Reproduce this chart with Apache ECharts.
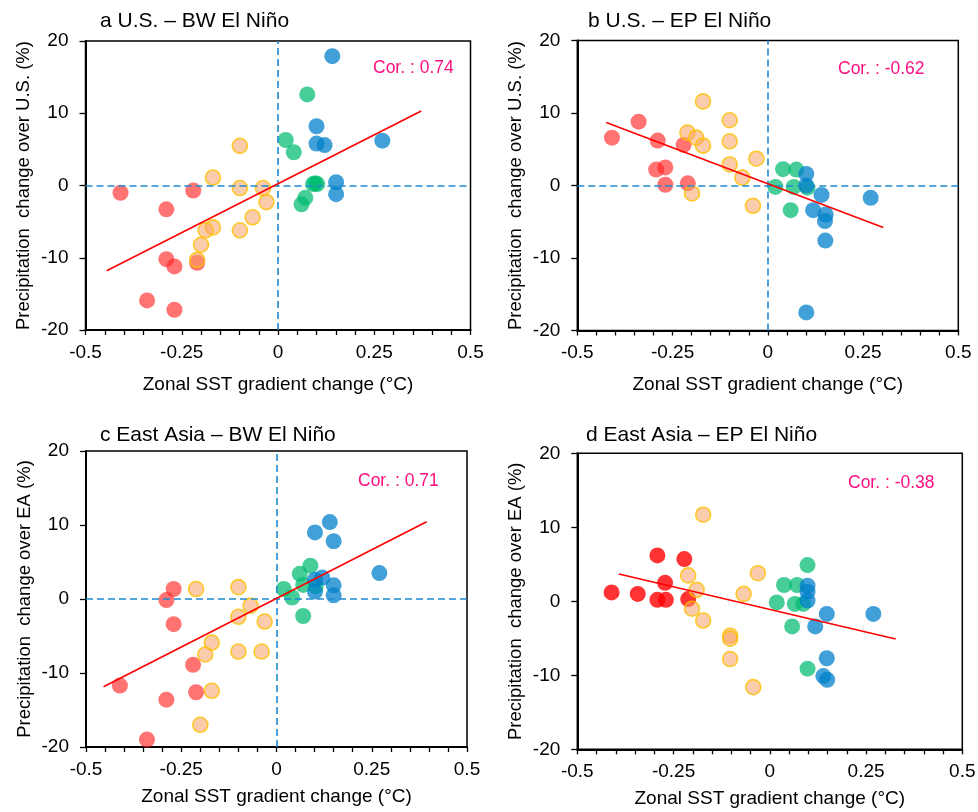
<!DOCTYPE html>
<html><head><meta charset="utf-8">
<script src="https://cdn.jsdelivr.net/npm/echarts/dist/echarts.min.js"></script>
<style>html,body{margin:0;padding:0;background:#fff}#c{width:978px;height:812px}</style>
</head><body><div id="c"></div>
<script>
// ---------- data ----------
const xTickValues = [-0.5, -0.25, 0, 0.25, 0.5];
const yTickValues = [-20, -10, 0, 10, 20];
const panelTitles = ['a U.S. – BW El Niño', 'b U.S. – EP El Niño', 'c East Asia – BW El Niño', 'd East Asia – EP El Niño'];
const yNames = ['Precipitation  change over U.S. (%)', 'Precipitation  change over U.S. (%)', 'Precipitation  change over EA (%)', 'Precipitation  change over EA (%)'];
const xName = 'Zonal SST gradient change (°C)';
const corLabels = ['Cor. : 0.74', 'Cor. : -0.62', 'Cor. : 0.71', 'Cor. : -0.38'];

const aRed = [[-0.409,-1.0],[-0.220,-0.7],[-0.290,-3.3],[-0.290,-10.2],[-0.269,-11.2],[-0.210,-10.7],[-0.340,-15.9],[-0.269,-17.2]];
const aOrange = [[-0.099,5.5],[-0.169,1.1],[-0.099,-0.35],[-0.039,-0.35],[-0.030,-2.3],[-0.066,-4.4],[-0.169,-5.8],[-0.188,-6.2],[-0.099,-6.2],[-0.200,-8.2],[-0.210,-10.3]];
const aGreen = [[0.076,12.6],[0.020,6.3],[0.041,4.6],[0.091,0.2],[0.102,0.2],[0.097,0.3],[0.071,-1.7],[0.061,-2.6]];
const aBlue = [[0.141,17.9],[0.100,8.2],[0.100,5.8],[0.121,5.6],[0.271,6.2],[0.151,0.45],[0.151,-1.2]];
const aFitX = [-0.445, 0.372], aFitY = [-11.8, 10.3];

const bRed = [[-0.409,6.6],[-0.339,8.8],[-0.289,6.2],[-0.221,5.6],[-0.293,2.2],[-0.269,2.5],[-0.269,0.1],[-0.210,0.3]];
const bOrange = [[-0.170,11.6],[-0.100,9.0],[-0.211,7.3],[-0.188,6.6],[-0.170,5.5],[-0.100,6.1],[-0.030,3.7],[-0.100,2.9],[-0.067,1.1],[-0.199,-1.1],[-0.039,-2.8]];
const bGreen = [[0.040,2.25],[0.075,2.2],[0.020,-0.2],[0.068,-0.2],[0.104,-0.3],[0.060,-3.4]];
const bBlue = [[0.101,1.6],[0.101,0.0],[0.141,-1.3],[0.119,-3.4],[0.152,-4.0],[0.150,-4.9],[0.151,-7.6],[0.270,-1.7],[0.101,-17.5]];
const bFitX = [-0.424, 0.303], bFitY = [8.7, -5.8];

const cRed = [[-0.411,-11.7],[-0.270,1.35],[-0.289,-0.14],[-0.270,-3.4],[-0.219,-8.9],[-0.211,-12.6],[-0.289,-13.6],[-0.340,-19.0]];
const cOrange = [[-0.211,1.35],[-0.100,1.6],[-0.068,-0.9],[-0.100,-2.4],[-0.031,-3.05],[-0.170,-5.9],[-0.187,-7.5],[-0.100,-7.1],[-0.039,-7.1],[-0.170,-12.4],[-0.200,-17.0]];
const cGreen = [[0.019,1.35],[0.041,0.2],[0.061,3.4],[0.089,4.5],[0.070,1.9],[0.070,-2.3],[0.103,1.7]];
const cBlue = [[0.140,10.4],[0.101,9.0],[0.150,7.8],[0.270,3.5],[0.120,2.9],[0.101,2.6],[0.150,1.85],[0.101,1.0],[0.150,0.5]];
const cFitX = [-0.454, 0.394], cFitY = [-11.85, 10.45];

const dRed = [[-0.411,1.2],[-0.343,1.0],[-0.292,0.2],[-0.270,0.2],[-0.292,6.2],[-0.272,2.5],[-0.222,5.7],[-0.212,0.3]];
const dOrange = [[-0.173,11.7],[-0.212,3.5],[-0.190,1.55],[-0.202,-1.0],[-0.173,-2.6],[-0.031,3.8],[-0.068,1.0],[-0.103,-4.65],[-0.103,-5.05],[-0.103,-7.8],[-0.043,-11.6]];
const dGreen = [[0.098,4.9],[0.037,2.2],[0.071,2.2],[0.018,-0.15],[0.065,-0.35],[0.087,-0.35],[0.058,-3.4],[0.098,-9.1]];
const dBlue = [[0.098,2.1],[0.098,1.3],[0.098,0.1],[0.148,-1.7],[0.269,-1.7],[0.118,-3.4],[0.148,-7.7],[0.139,-10.1],[0.149,-10.6]];
const dFitX = [-0.392, 0.327], dFitY = [3.7, -5.1];

// ---------- layout / style ----------
const FONT = 'Liberation Sans, Arial, Helvetica, sans-serif';
const panels = [
  {red: aRed, orange: aOrange, green: aGreen, blue: aBlue, fx: aFitX, fy: aFitY, zero: true,  redColor: 'rgba(255,30,30,0.78)',
   grid: {left: 85.5, top: 41, width: 385, height: 289}, xGap: 45, title: [100, 21], cor: [373, 68]},
  {red: bRed, orange: bOrange, green: bGreen, blue: bBlue, fx: bFitX, fy: bFitY, zero: true,  redColor: 'rgba(255,30,30,0.78)',
   grid: {left: 577.3, top: 40.5, width: 381, height: 290}, xGap: 45, title: [588, 21], cor: [838, 69]},
  {red: cRed, orange: cOrange, green: cGreen, blue: cBlue, fx: cFitX, fy: cFitY, zero: true,  redColor: 'rgba(255,30,30,0.78)',
   grid: {left: 86, top: 451, width: 381, height: 296}, xGap: 40, title: [100, 435], cor: [358, 481]},
  {red: dRed, orange: dOrange, green: dGreen, blue: dBlue, fx: dFitX, fy: dFitY, zero: false, redColor: '#FF0000',
   grid: {left: 577.3, top: 453.3, width: 385, height: 296}, xGap: 40, title: [586, 435], cor: [848, 483]}
];

const grids = [], xAxes = [], yAxes = [], series = [], graphics = [];
panels.forEach((p, i) => {
  grids.push(Object.assign({show: true, borderColor: '#000', borderWidth: 1.5, backgroundColor: 'transparent', containLabel: false, outerBoundsMode: 'none'}, p.grid));
  xAxes.push({
    type: 'value', gridIndex: i, min: xTickValues[0], max: xTickValues[xTickValues.length - 1], interval: 0.25,
    name: xName, nameLocation: 'middle', nameGap: p.xGap,
    nameTextStyle: {fontFamily: FONT, fontSize: 19, color: '#000'},
    axisLine: {show: true, onZero: false, lineStyle: {color: '#000', width: 2}},
    axisTick: {show: true, inside: false, length: 5, lineStyle: {color: '#000', width: 1.3}},
    minorTick: {show: true, splitNumber: 5, length: 5, lineStyle: {color: '#000', width: 1.3}},
    axisLabel: {show: true, margin: 13, fontFamily: FONT, fontSize: 19, color: '#000',
      formatter: v => (Math.abs(v) < 1e-9 ? '0' : String(+v.toFixed(2)))},
    splitLine: {show: false}, minorSplitLine: {show: false}
  });
  yAxes.push({
    type: 'value', gridIndex: i, min: yTickValues[0], max: yTickValues[yTickValues.length - 1], interval: 10,
    name: yNames[i], nameLocation: 'middle', nameGap: 52, nameRotate: 90,
    nameTextStyle: {fontFamily: FONT, fontSize: 18.5, color: '#000'},
    axisLine: {show: true, onZero: false, lineStyle: {color: '#000', width: 2}},
    axisTick: {show: true, inside: false, length: 6, lineStyle: {color: '#000', width: 1.3}},
    axisLabel: {show: true, margin: 17, fontFamily: FONT, fontSize: 19, color: '#000'},
    splitLine: {show: false}
  });
  if (p.zero) {
    series.push({
      type: 'line', xAxisIndex: i, yAxisIndex: i, data: [], z: 1, silent: true,
      markLine: {silent: true, symbol: 'none', animation: false, label: {show: false},
        lineStyle: {color: '#1E8BD0', width: 1.6, type: [7, 4]},
        data: [{xAxis: 0}, {yAxis: 0}]}
    });
  }
  const base = {type: 'scatter', xAxisIndex: i, yAxisIndex: i, z: 3, silent: true, animation: false};
  series.push(Object.assign({}, base, {data: p.red, symbolSize: 16, itemStyle: {color: p.redColor}}));
  series.push(Object.assign({}, base, {data: p.orange, symbolSize: 15,
    itemStyle: {color: 'rgba(247,160,100,0.68)', borderColor: '#FFC000', borderWidth: 1.6}}));
  series.push(Object.assign({}, base, {data: p.green, symbolSize: 16, itemStyle: {color: 'rgba(0,187,112,0.9)'}}));
  series.push(Object.assign({}, base, {data: p.blue, symbolSize: 16, itemStyle: {color: 'rgba(0,128,202,0.93)'}}));
  series.push({
    type: 'line', xAxisIndex: i, yAxisIndex: i, z: 5, silent: true, animation: false,
    data: p.fx.map((x, k) => [x, p.fy[k]]), showSymbol: false, symbol: 'none',
    lineStyle: {color: '#FF0000', width: 1.6}
  });
  graphics.push({type: 'text', x: p.title[0], y: p.title[1], silent: true,
    style: {text: panelTitles[i], fontFamily: FONT, fontSize: 21, fill: '#000', verticalAlign: 'middle', textVerticalAlign: 'middle'}});
  graphics.push({type: 'text', x: p.cor[0], y: p.cor[1], silent: true,
    style: {text: corLabels[i], fontFamily: FONT, fontSize: 17.5, fill: '#FF1080', verticalAlign: 'middle', textVerticalAlign: 'middle'}});
});

const chart = echarts.init(document.getElementById('c'), null, {renderer: 'canvas', width: 978, height: 812});
chart.setOption({
  backgroundColor: '#ffffff',
  animation: false,
  grid: grids, xAxis: xAxes, yAxis: yAxes, series: series, graphic: graphics
});
</script>
</body></html>
